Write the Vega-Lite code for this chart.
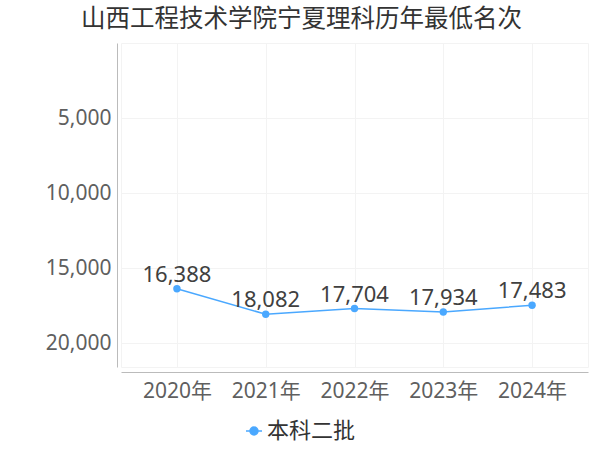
{
  "$schema": "https://vega.github.io/schema/vega-lite/v6.json",
  "width": 467,
  "height": 324,
  "autosize": {"type": "none"},
  "padding": {"left": 121, "top": 43, "right": 12, "bottom": 83},
  "background": "white",
  "title": {
    "text": "山西工程技术学院宁夏理科历年最低名次",
    "anchor": "middle",
    "frame": "group",
    "dx": -53,
    "offset": 11,
    "font": "Noto Sans CJK SC",
    "fontSize": 24.5,
    "fontWeight": "normal",
    "color": "#333333"
  },
  "config": {
    "font": "Noto Sans, Noto Sans CJK SC",
    "view": {"stroke": "#f3f3f3", "strokeWidth": 1}
  },
  "data": {
    "values": [
      {"year": "2020年", "rank": 16388, "type": "本科二批"},
      {"year": "2021年", "rank": 18082, "type": "本科二批"},
      {"year": "2022年", "rank": 17704, "type": "本科二批"},
      {"year": "2023年", "rank": 17934, "type": "本科二批"},
      {"year": "2024年", "rank": 17483, "type": "本科二批"}
    ]
  },
  "encoding": {
    "x": {
      "field": "year",
      "type": "ordinal",
      "scale": {"type": "point", "padding": 0.63},
      "axis": {
        "title": null,
        "labelAngle": 0,
        "offset": 5,
        "domainColor": "#bbbbbb",
        "ticks": false,
        "labelPadding": 8,
        "labelFontSize": 21,
        "labelColor": "#5f5f5f",
        "labelFont": "Noto Sans, Noto Sans CJK SC",
        "grid": true,
        "gridColor": "#f3f3f3"
      }
    },
    "y": {
      "field": "rank",
      "type": "quantitative",
      "scale": {"domain": [0, 21600], "reverse": true, "nice": false, "zero": false},
      "axis": {
        "title": null,
        "values": [5000, 10000, 15000, 20000],
        "format": ",d",
        "offset": 4,
        "domainColor": "#bbbbbb",
        "ticks": false,
        "labelPadding": 6,
        "labelFontSize": 21,
        "labelColor": "#5f5f5f",
        "gridColor": "#f3f3f3"
      }
    }
  },
  "layer": [
    {
      "mark": {"type": "line", "color": "#4aa8ff", "strokeWidth": 1.5}
    },
    {
      "mark": {"type": "point", "filled": true, "size": 55, "opacity": 1},
      "encoding": {
        "color": {
          "field": "type",
          "type": "nominal",
          "scale": {"range": ["#4aa8ff"]},
          "legend": {
            "title": null,
            "orient": "none",
            "legendX": 122,
            "legendY": 377,
            "padding": 0,
            "symbolType": "M-1,0L1,0M-0.5,0A0.5,0.5,0,1,1,0.5,0A0.5,0.5,0,1,1,-0.5,0Z",
            "symbolSize": 256,
            "symbolStrokeColor": "#4aa8ff",
            "symbolStrokeWidth": 1.5,
            "labelFontSize": 22,
            "labelColor": "#333333",
            "labelFont": "Noto Sans CJK SC",
            "labelOffset": 2,
            "encode": {
              "symbols": {
                "stroke": {"value": "#4aa8ff"},
                "strokeWidth": {"value": 1.5}
              }
            }
          }
        }
      }
    },
    {
      "mark": {"type": "text", "baseline": "alphabetic", "dy": -7, "fontSize": 22, "color": "#404040"},
      "encoding": {
        "text": {"field": "rank", "type": "quantitative", "format": ",d"}
      }
    }
  ]
}
